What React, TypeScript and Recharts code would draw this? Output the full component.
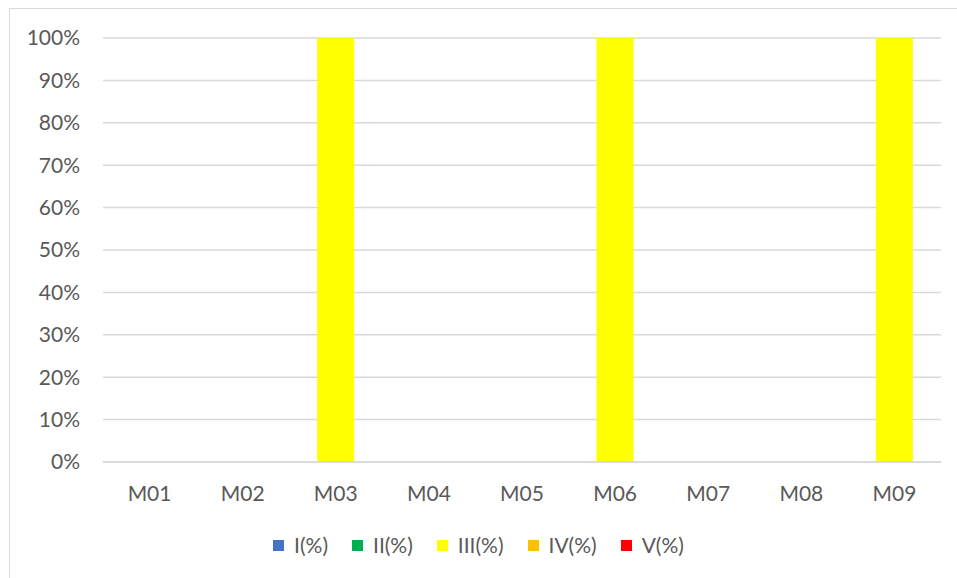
import React from "react";
import {
  BarChart,
  Bar,
  CartesianGrid,
  XAxis,
  YAxis,
} from "recharts";

const months = ["M01", "M02", "M03", "M04", "M05", "M06", "M07", "M08", "M09"];
const levelI = [0, 0, 0, 0, 0, 0, 0, 0, 0];
const levelII = [0, 0, 0, 0, 0, 0, 0, 0, 0];
const levelIII = [0, 0, 100, 0, 0, 100, 0, 0, 100];
const levelIV = [0, 0, 0, 0, 0, 0, 0, 0, 0];
const levelV = [0, 0, 0, 0, 0, 0, 0, 0, 0];
const yTicks = [0, 10, 20, 30, 40, 50, 60, 70, 80, 90, 100];

const series = [
  { key: "I(%)", values: levelI, color: "#4472c4" },
  { key: "II(%)", values: levelII, color: "#00b050" },
  { key: "III(%)", values: levelIII, color: "#ffff00" },
  { key: "IV(%)", values: levelIV, color: "#ffc000" },
  { key: "V(%)", values: levelV, color: "#ff0000" },
];

const chartData = months.map((m, i) => {
  const row: Record<string, string | number> = { month: m };
  series.forEach((s) => {
    row[s.key] = s.values[i];
  });
  return row;
});

const font = "Lato, 'Open Sans', sans-serif";
const textColor = "#595959";

function LegendRow() {
  return (
    <div
      style={{
        position: "absolute",
        left: 0,
        top: 532,
        width: 957,
        display: "flex",
        justifyContent: "center",
        fontFamily: font,
        fontSize: 21,
        color: textColor,
        lineHeight: "26px",
      }}
    >
      {series.map((s) => (
        <div
          key={s.key}
          style={{ display: "flex", alignItems: "center", margin: "0 12px" }}
        >
          <span
            style={{
              width: 11,
              height: 11,
              background: s.color,
              display: "inline-block",
              marginRight: 10,
            }}
          />
          <span>{s.key}</span>
        </div>
      ))}
    </div>
  );
}

export default function App() {
  return (
    <div
      style={{
        position: "absolute",
        left: 0,
        top: 0,
        width: 957,
        height: 578,
        background: "#fff",
        overflow: "hidden",
      }}
    >
      <div
        style={{
          position: "absolute",
          left: 9,
          top: 8,
          width: 960,
          height: 580,
          border: "1.5px solid #d9d9d9",
          boxSizing: "border-box",
        }}
      />
      <div style={{ position: "absolute", left: 0, top: 0 }}>
        <BarChart
          width={957}
          height={578}
          data={chartData}
          margin={{ top: 38, right: 16, bottom: 0, left: 0 }}
          barCategoryGap="30%"
        >
          <CartesianGrid
            horizontal
            vertical={false}
            stroke="#d9d9d9"
            strokeWidth={1.5}
          />
          <XAxis
            dataKey="month"
            axisLine={{ stroke: "#d9d9d9", strokeWidth: 1.5 }}
            tickLine={false}
            tickSize={0}
            tickMargin={24}
            height={116}
            tick={{ fontSize: 21, fill: textColor, fontFamily: font }}
          />
          <YAxis
            width={103}
            domain={[0, 100]}
            ticks={yTicks}
            interval={0}
            axisLine={false}
            tickLine={false}
            tickSize={0}
            tickMargin={23}
            tickFormatter={(v: number) => `${v}%`}
            tick={{ fontSize: 21, fill: textColor, fontFamily: font }}
          />
          {series.map((s) => (
            <Bar
              key={s.key}
              dataKey={s.key}
              stackId="a"
              fill={s.color}
              isAnimationActive={false}
            />
          ))}
        </BarChart>
      </div>
      <LegendRow />
    </div>
  );
}
